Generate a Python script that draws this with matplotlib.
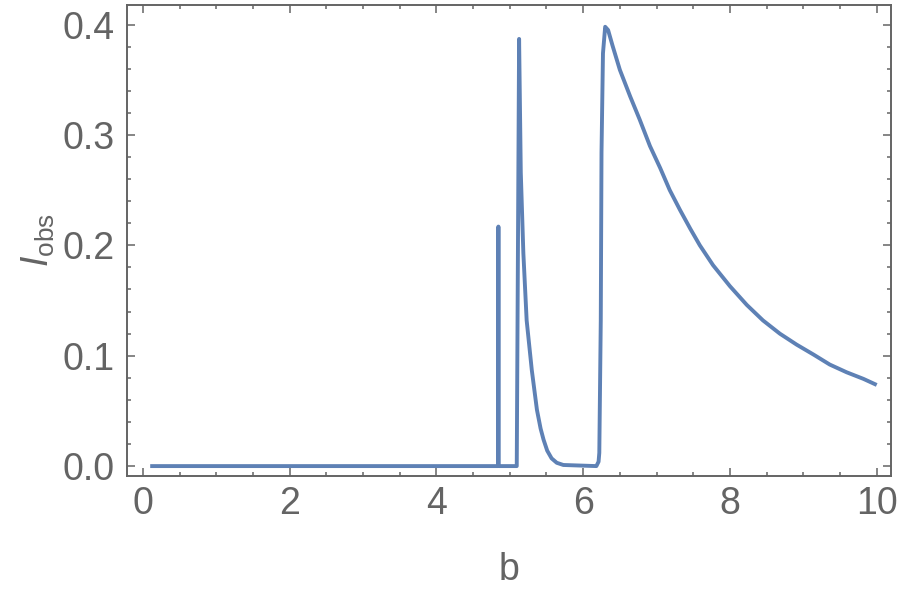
import matplotlib
matplotlib.use('Agg')
import matplotlib.pyplot as plt
from matplotlib.ticker import MultipleLocator, FormatStrFormatter

# Curve
b_values = [
    0.1, 4.84, 4.845, 4.85, 5.095, 5.127, 5.15, 5.185, 5.23, 5.30, 5.37,
    5.42, 5.46, 5.51, 5.57, 5.64, 5.73, 6.18, 6.21, 6.22, 6.24, 6.25,
    6.27, 6.30, 6.34, 6.40, 6.50, 6.57, 6.64, 6.77, 6.91, 7.05, 7.18,
    7.32, 7.46, 7.59, 7.77, 8.00, 8.23, 8.45, 8.68, 8.91, 9.14, 9.36,
    9.59, 9.82, 10.0,
]
i_obs = [
    0.0, 0.0, 0.217, 0.0, 0.0, 0.387, 0.266, 0.193, 0.132, 0.087, 0.051,
    0.034, 0.024, 0.014, 0.007, 0.003, 0.001, 0.0, 0.004, 0.012, 0.132, 0.284,
    0.374, 0.398, 0.395, 0.381, 0.359, 0.347, 0.335, 0.314, 0.290, 0.270, 0.250,
    0.232, 0.215, 0.200, 0.182, 0.163, 0.146, 0.132, 0.120, 0.110, 0.101, 0.092,
    0.085, 0.079, 0.0735,
]

GRAY = '#646464'
LINE = '#5E81B5'

plt.rcParams['font.family'] = ['Liberation Sans', 'DejaVu Sans']
plt.rcParams['mathtext.fontset'] = 'custom'
plt.rcParams['mathtext.rm'] = 'Liberation Sans'
plt.rcParams['mathtext.it'] = 'Liberation Sans:italic'

fig = plt.figure(figsize=(9, 5.96), dpi=100)
ax = fig.add_axes([0.1408, 0.2013, 0.99 - 0.1408, 0.9921 - 0.2013])

ax.plot(b_values, i_obs, color=LINE, linewidth=2.8,
        solid_joinstyle='round', solid_capstyle='butt')

ax.set_xlim(-0.22, 10.195)
ax.set_ylim(-0.009, 0.418)

ax.xaxis.set_major_locator(MultipleLocator(2))
ax.xaxis.set_minor_locator(MultipleLocator(0.5))
ax.yaxis.set_major_locator(MultipleLocator(0.1))
ax.yaxis.set_minor_locator(MultipleLocator(0.02))
ax.yaxis.set_major_formatter(FormatStrFormatter('%.1f'))

ax.tick_params(which='both', direction='in', top=True, right=True,
               color=GRAY, labelcolor=GRAY, labelsize=27, width=1.1)
ax.tick_params(which='major', length=6)
ax.tick_params(which='minor', length=3)
ax.tick_params(axis='y', which='major', pad=9)
ax.tick_params(axis='x', which='major', pad=7)

for spine in ax.spines.values():
    spine.set_color(GRAY)
    spine.set_linewidth(1.4)

ax.set_xlabel('b', color=GRAY, fontsize=27, labelpad=22)
ax.set_ylabel(r'$I_{\mathrm{obs}}$', color=GRAY, fontsize=27, labelpad=4)

plt.savefig('out.png', dpi=100)
plt.close()
